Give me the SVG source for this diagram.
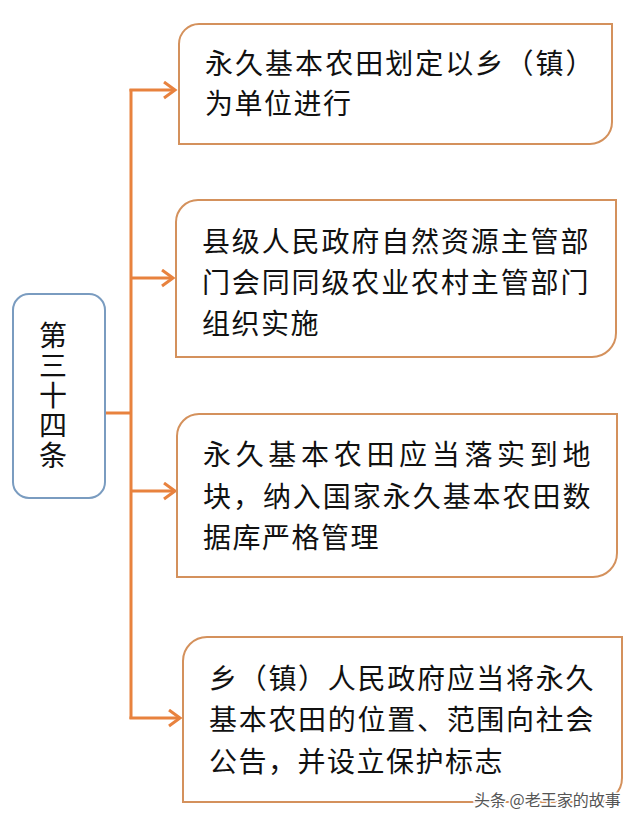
<svg xmlns="http://www.w3.org/2000/svg" width="640" height="825" viewBox="0 0 640 825">
  <style>
    .box { fill: #ffffff; stroke: #D4915C; stroke-width: 2; }
    .root { fill: #ffffff; stroke: #7A9CC0; stroke-width: 2; }
    .t { font-family: "Noto Sans CJK SC", "Noto Sans", sans-serif; font-size: 28px; fill: #111111; letter-spacing: 1.5px; }
    .v { font-family: "Noto Sans CJK SC", "Noto Sans", sans-serif; font-size: 28px; fill: #111111; writing-mode: vertical-rl; letter-spacing: 2px; }
    .conn { fill: none; stroke: #E8823E; stroke-width: 3; }
    .wm { font-family: "Noto Sans CJK SC", "Noto Sans", sans-serif; font-size: 16px; fill: #555555; stroke: #ffffff; stroke-width: 3px; paint-order: stroke; }
  </style>
  <defs>
    <marker id="arr" markerUnits="userSpaceOnUse" markerWidth="16" markerHeight="20" refX="13" refY="9" orient="auto">
      <path d="M2,1 L13,9 L2,17" fill="none" stroke="#E8823E" stroke-width="3"/>
    </marker>
  </defs>

  <rect width="640" height="825" fill="#ffffff"/>

  <g id="connectors">
    <line class="conn" x1="105" y1="413" x2="131" y2="413"/>
    <line class="conn" x1="131" y1="89" x2="131" y2="719"/>
    <line class="conn" x1="129.5" y1="90" x2="175" y2="90" marker-end="url(#arr)"/>
    <line class="conn" x1="131" y1="278" x2="173" y2="278" marker-end="url(#arr)"/>
    <line class="conn" x1="131" y1="491" x2="175" y2="491" marker-end="url(#arr)"/>
    <line class="conn" x1="129.5" y1="718" x2="180" y2="718" marker-end="url(#arr)"/>
  </g>

  <g id="root">
    <rect class="root" x="13" y="294" width="92" height="204" rx="16" ry="16"/>
    <text class="v" x="53" y="321">第三十四条</text>
  </g>

  <g id="node1">
    <path class="box" d="M199,24 H612 V122 A22,22 0 0 1 590,144 H179 V44 A20,20 0 0 1 199,24 Z"/>
    <text class="t" x="205" y="74" textLength="390" lengthAdjust="spacing">永久基本农田划定以乡（镇）</text>
    <text class="t" x="205" y="114">为单位进行</text>
  </g>

  <g id="node2">
    <path class="box" d="M198,200 H616 V333 A24,24 0 0 1 592,357 H176 V222 A22,22 0 0 1 198,200 Z"/>
    <text class="t" x="202" y="252" textLength="388" lengthAdjust="spacing">县级人民政府自然资源主管部</text>
    <text class="t" x="202" y="293" textLength="388" lengthAdjust="spacing">门会同同级农业农村主管部门</text>
    <text class="t" x="202" y="334">组织实施</text>
  </g>

  <g id="node3">
    <path class="box" d="M199,414 H617 V553 A24,24 0 0 1 593,577 H177 V436 A22,22 0 0 1 199,414 Z"/>
    <text class="t" x="203" y="465" textLength="389" lengthAdjust="spacing">永久基本农田应当落实到地</text>
    <text class="t" x="203" y="507" textLength="389" lengthAdjust="spacing">块，纳入国家永久基本农田数</text>
    <text class="t" x="203" y="548">据库严格管理</text>
  </g>

  <g id="node4">
    <path class="box" d="M207,637 H622 V778 A24,24 0 0 1 598,802 H183 V661 A24,24 0 0 1 207,637 Z"/>
    <text class="t" x="209" y="689" textLength="386" lengthAdjust="spacing">乡（镇）人民政府应当将永久</text>
    <text class="t" x="209" y="730" textLength="386" lengthAdjust="spacing">基本农田的位置、范围向社会</text>
    <text class="t" x="209" y="772">公告，并设立保护标志</text>
  </g>

  <text class="wm" x="474" y="806">头条 @老王家的故事</text>
</svg>
